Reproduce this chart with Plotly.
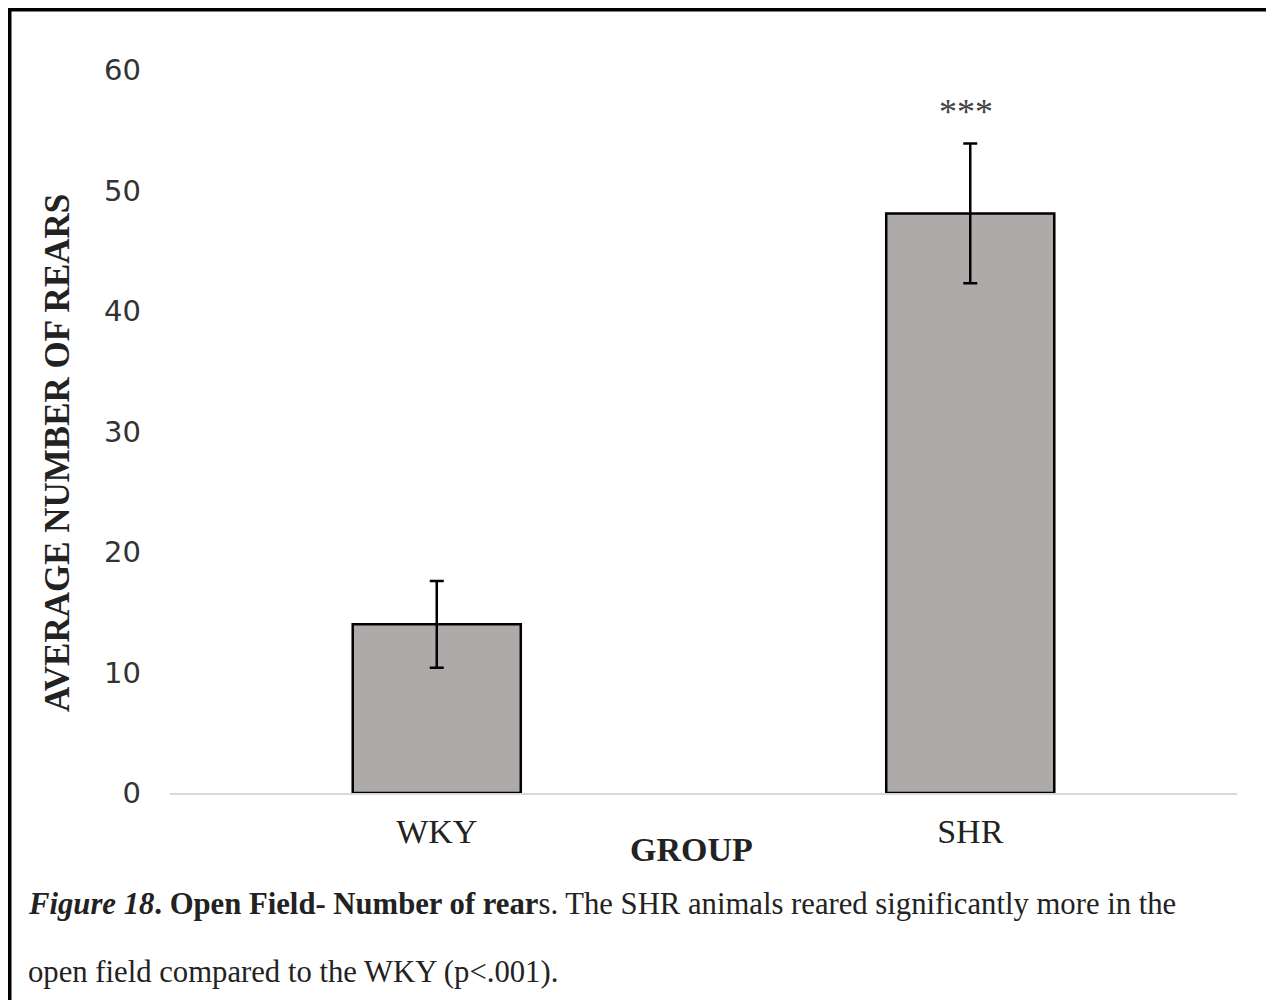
import plotly.graph_objects as go

# Data
groups = ["WKY", "SHR"]
mean_rears = [14.0, 48.1]
sem_rears = [3.6, 5.8]
sig_label = "***"
y_ticks = [0, 10, 20, 30, 40, 50, 60]

# page body has an 8px margin, so the figure starts at (8, 8) on screen
OFF = 8
W, H = 1274 - OFF, 1000 - OFF
L, R, T, B = 162, 37, 62, 207  # plot area margins in figure pixels


def px_x(sx):
    # screen x -> paper x
    return (sx - OFF - L) / (W - L - R)


def px_y(sy):
    # screen y -> paper y
    return (H - B - (sy - OFF)) / (H - T - B)


serif = "Liberation Serif, Times New Roman, serif"
ink = "#222"

fig = go.Figure()

fig.add_trace(go.Bar(
    x=groups,
    y=mean_rears,
    marker=dict(color="#AEAAAA", line=dict(color="black", width=2.5)),
    error_y=dict(type="data", array=sem_rears, visible=True,
                 color="black", thickness=2.5, width=7),
    showlegend=False,
))

# significance stars above SHR
fig.add_annotation(
    x=groups[1], y=mean_rears[1] + sem_rears[1],
    text=sig_label, showarrow=False, yanchor="bottom", yshift=10,
    xshift=-4, font=dict(family=serif, size=36, color="#444"),
)

# y axis title
fig.add_annotation(
    xref="paper", yref="paper", x=px_x(57), y=px_y(453),
    xanchor="center", yanchor="middle",
    text="<b>AVERAGE NUMBER OF REARS</b>", textangle=-90, showarrow=False,
    font=dict(family=serif, size=35, color=ink),
)

# x axis title
fig.add_annotation(
    xref="paper", yref="paper", x=px_x(691), y=px_y(849),
    xanchor="center", yanchor="middle",
    text="<b>GROUP</b>", showarrow=False,
    font=dict(family=serif, size=34, color=ink),
)

# caption
fig.add_annotation(
    xref="paper", yref="paper", x=px_x(26), y=px_y(904),
    xanchor="left", yanchor="middle",
    text="<b><i>Figure 18</i>. Open Field- Number of rear</b>s. The SHR animals "
         "reared significantly more in the",
    showarrow=False, font=dict(family=serif, size=30.7, color=ink),
)
fig.add_annotation(
    xref="paper", yref="paper", x=px_x(26), y=px_y(972),
    xanchor="left", yanchor="middle",
    text="open field compared to the WKY (p<.001).",
    showarrow=False, font=dict(family=serif, size=30.7, color=ink),
)

# page frame
frame = dict(type="line", xref="paper", yref="paper")
fig.add_shape(**frame, x0=px_x(9.5), x1=px_x(9.5), y0=px_y(6), y1=px_y(1010),
              line=dict(color="black", width=4))
fig.add_shape(**frame, x0=px_x(7), x1=px_x(1273), y0=px_y(9), y1=px_y(9),
              line=dict(color="black", width=5))
fig.add_shape(**frame, x0=px_x(1271.5), x1=px_x(1271.5), y0=px_y(6),
              y1=px_y(1010), line=dict(color="black", width=3))

fig.update_layout(
    width=W, height=H,
    margin=dict(l=L, r=R, t=T, b=B),
    plot_bgcolor="white", paper_bgcolor="white",
    bargap=0.685,
    font=dict(family=serif, color=ink),
    xaxis=dict(
        showgrid=False, showline=True, linecolor="#D9D9D9", linewidth=2,
        ticks="", tickfont=dict(family=serif, size=34, color=ink),
        ticklabelstandoff=7, zeroline=False,
    ),
    yaxis=dict(
        range=[0, 60], tickvals=y_ticks, showgrid=False, showline=False,
        zeroline=False, ticks="",
        tickfont=dict(family="DejaVu Sans, Tahoma, sans-serif", size=29,
                      color="#333"),
        ticklabelstandoff=28,
    ),
)

fig.write_html("out.html")
